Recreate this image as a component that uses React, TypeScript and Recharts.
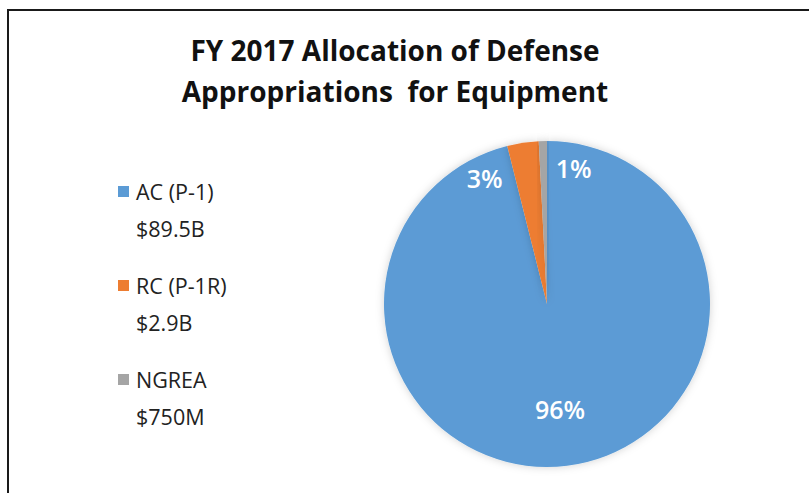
import React from "react";
import { PieChart, Pie, Cell } from "recharts";

const categories = ["AC (P-1)", "RC (P-1R)", "NGREA"];
const amountsB = [89.5, 2.9, 0.75];
const amountLabels = ["$89.5B", "$2.9B", "$750M"];
const colors = ["#5B9BD5", "#ED7D31", "#A5A5A5"];

const data = categories.map((name, i) => ({ name, value: amountsB[i], amount: amountLabels[i] }));

const CX = 547;
const CY = 304;
const R = 163;
const RAD = Math.PI / 180;
// label placement (styling): radial factor and nudges per slice
const labelRadius = [0.65, 0.8, 0.8];
const labelNudgeX = [0, -43, 30];
const labelNudgeY = [0, 3, -6];

const FONT = "'Open Sans', 'Noto Sans', sans-serif";

const renderLabel = (props: any) => {
  const { cx, cy, midAngle, outerRadius, percent, index } = props;
  const r = outerRadius * labelRadius[index];
  const x = cx + r * Math.cos(-midAngle * RAD) + labelNudgeX[index];
  const y = cy + r * Math.sin(-midAngle * RAD) + labelNudgeY[index];
  return (
    <text
      x={x}
      y={y}
      fill="#ffffff"
      textAnchor="middle"
      dominantBaseline="central"
      fontFamily={FONT}
      fontSize={25}
      fontWeight={600}
    >
      {`${Math.round(percent * 100)}%`}
    </text>
  );
};

function LegendBlock() {
  return (
    <div
      style={{
        position: "absolute",
        left: 118,
        top: 172,
        fontFamily: FONT,
        fontSize: 21.5,
        color: "#222",
      }}
    >
      {data.map((d, i) => (
        <div key={d.name} style={{ marginBottom: i < 2 ? 18 : 0 }}>
          <div style={{ display: "flex", alignItems: "center", height: 38 }}>
            <span
              style={{
                display: "inline-block",
                width: 11,
                height: 11,
                background: colors[i],
                marginRight: 7,
              }}
            />
            <span>{d.name}</span>
          </div>
          <div style={{ height: 38, lineHeight: "38px", paddingLeft: 18 }}>{d.amount}</div>
        </div>
      ))}
    </div>
  );
}

export default function App() {
  return (
    <div
      style={{
        position: "absolute",
        left: 0,
        top: 0,
        width: 809,
        height: 493,
        background: "#ffffff",
        overflow: "hidden",
      }}
    >
      <div
        style={{
          position: "absolute",
          left: 7,
          top: 9,
          width: 820,
          height: 500,
          borderTop: "2.5px solid #1a1a1a",
          borderLeft: "2.5px solid #1a1a1a",
        }}
      />
      <div
        style={{
          position: "absolute",
          left: 90,
          width: 610,
          top: 30,
          textAlign: "center",
          fontFamily: FONT,
          fontWeight: 700,
          fontSize: 28,
          lineHeight: "41px",
          color: "#111",
        }}
      >
        FY 2017 Allocation of Defense
        <br />
        Appropriations&nbsp; for Equipment
      </div>
      <LegendBlock />
      <div style={{ position: "absolute", left: 0, top: 0 }}>
        <PieChart width={809} height={493} margin={{ top: 0, right: 0, bottom: 0, left: 0 }}>
          <defs>
            <filter id="softShadow" x="-20%" y="-20%" width="140%" height="140%">
              <feDropShadow dx="0" dy="0" stdDeviation="4" floodColor="#000" floodOpacity="0.18" />
            </filter>
          </defs>
          <Pie
            data={data}
            dataKey="value"
            nameKey="name"
            cx={CX}
            cy={CY}
            outerRadius={R}
            startAngle={90}
            endAngle={-270}
            stroke="none"
            isAnimationActive={false}
            label={renderLabel}
            labelLine={false}
            style={{ filter: "url(#softShadow)" }}
          >
            {data.map((d, i) => (
              <Cell key={d.name} fill={colors[i]} />
            ))}
          </Pie>
        </PieChart>
      </div>
    </div>
  );
}
